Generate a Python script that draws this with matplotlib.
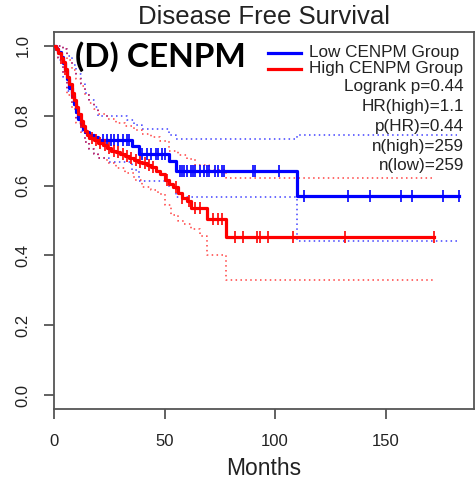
import matplotlib
matplotlib.use("Agg")
import matplotlib.pyplot as plt
import numpy as np

plt.rcParams['font.family'] = ['Liberation Sans', 'DejaVu Sans']

# Kaplan-Meier estimate, low expression group (months, survival)
low_t = [0, 1, 2, 3, 4, 5, 6, 7, 8, 9, 10, 11, 12, 13, 14, 16, 18, 20,
         35.5, 38.5, 52, 55, 110]
low_s = [1.0, 0.992, 0.982, 0.968, 0.95, 0.93, 0.905, 0.88, 0.858, 0.834,
         0.812, 0.792, 0.776, 0.762, 0.753, 0.745, 0.738, 0.731,
         0.712, 0.69, 0.67, 0.643, 0.57]
low_end = 183
low_cens = [22, 24, 26, 27, 29, 31, 33, 34, 40, 42, 44, 46, 47, 49, 50,
            57, 58, 59, 60, 62, 63, 64, 66, 68, 69, 70, 73, 74, 76, 77,
            90, 91, 102, 113, 133, 143, 157, 162, 176, 183]

low_up_t = [0, 2, 4, 6, 8, 10, 12, 14, 16, 18, 20, 33, 36, 40, 52, 55, 110]
low_up_s = [1.0, 1.0, 0.99, 0.97, 0.945, 0.92, 0.89, 0.865, 0.845, 0.825,
            0.80, 0.788, 0.775, 0.762, 0.745, 0.733, 0.745]
low_lo_t = [0, 2, 4, 6, 8, 10, 12, 14, 16, 18, 20, 25, 35.5, 38.5, 52, 55, 110]
low_lo_s = [1.0, 0.96, 0.91, 0.87, 0.83, 0.79, 0.755, 0.725, 0.705, 0.69,
            0.68, 0.667, 0.645, 0.614, 0.595, 0.567, 0.441]
low_ci_end = 182.5

# Kaplan-Meier estimate, high expression group
high_t = [0, 1, 2, 3, 4, 5, 6, 7, 8, 9, 10, 11, 12, 13, 14, 15, 16, 18, 20,
          22, 24, 26, 28, 30, 32, 34, 36, 38, 40, 42, 44, 46, 48, 50, 52,
          54, 56, 58, 60, 62, 69, 78]
high_s = [1.0, 0.99, 0.98, 0.965, 0.955, 0.935, 0.91, 0.89, 0.865, 0.845,
          0.825, 0.805, 0.785, 0.77, 0.757, 0.745, 0.737, 0.73, 0.722,
          0.715, 0.708, 0.70, 0.695, 0.69, 0.685, 0.679, 0.674, 0.669,
          0.664, 0.658, 0.652, 0.643, 0.633, 0.617, 0.605, 0.595, 0.58,
          0.565, 0.555, 0.537, 0.505, 0.454]
high_end = 172
high_cens = [3, 5, 8, 12, 17, 19, 21, 23, 25, 27, 29, 31, 33, 35, 37, 39,
             41, 43, 45, 51, 55, 58, 61, 64, 66, 72, 74, 76,
             82, 85.5, 92, 93, 96.7, 108, 131.7, 172]

high_up_t = [0, 2, 4, 6, 8, 10, 12, 14, 16, 18, 20, 24, 28, 32, 36, 40, 44,
             48, 52, 56, 60, 64, 70, 78]
high_up_s = [1.0, 1.0, 0.99, 0.96, 0.93, 0.905, 0.885, 0.86, 0.838, 0.818,
             0.805, 0.792, 0.78, 0.77, 0.758, 0.748, 0.738, 0.728, 0.70,
             0.688, 0.675, 0.66, 0.645, 0.621]
high_lo_t = [0, 2, 4, 6, 8, 10, 12, 14, 16, 18, 20, 24, 28, 32, 36, 40, 44,
             47, 50, 53, 56, 59, 62, 66, 69, 78]
high_lo_s = [1.0, 0.965, 0.925, 0.86, 0.82, 0.78, 0.75, 0.725, 0.705, 0.69,
             0.68, 0.665, 0.65, 0.635, 0.615, 0.597, 0.588, 0.575, 0.545,
             0.515, 0.5, 0.49, 0.476, 0.455, 0.40, 0.33]
high_ci_end = 172

x_ticks = [0, 50, 100, 150]
y_ticks = [0.0, 0.2, 0.4, 0.6, 0.8, 1.0]

stats = ["Logrank p=0.44", "HR(high)=1.1", "p(HR)=0.44",
         "n(high)=259", "n(low)=259"]

BLUE = "#0000ff"
RED = "#ff0000"

fig = plt.figure(figsize=(4.76, 4.82), dpi=100)
ax = fig.add_axes([54 / 476, (482 - 409) / 482, (474 - 54) / 476, (409 - 32) / 482])


def extend(t, s, end):
    return list(t) + [end], list(s) + [s[-1]]


def step_value(t, s, x):
    idx = np.searchsorted(np.asarray(t), x, side="right") - 1
    return np.asarray(s)[idx]


def ci_line(t, s, end, color):
    tt, ss = extend(t, s, end)
    ax.step(tt, ss, where="post", color=color, lw=1.1,
            linestyle=(0, (1, 2.2)), alpha=0.75, zorder=2)


ci_line(low_up_t, low_up_s, low_ci_end, BLUE)
ci_line(low_lo_t, low_lo_s, low_ci_end, BLUE)
ci_line(high_up_t, high_up_s, high_ci_end, RED)
ci_line(high_lo_t, high_lo_s, high_ci_end, RED)

for t, s, end, cens, color, z in [
        (low_t, low_s, low_end, low_cens, BLUE, 3),
        (high_t, high_s, high_end, high_cens, RED, 4)]:
    tt, ss = extend(t, s, end)
    ax.step(tt, ss, where="post", color=color, lw=2.3, zorder=z)
    ax.plot(cens, step_value(t, s, np.asarray(cens)), linestyle="none",
            marker="|", markersize=8, markeredgewidth=1.2, color=color,
            zorder=z)

ax.set_xlim(0, 190)
ax.set_ylim(-0.04, 1.04)
ax.set_xticks(x_ticks)
ax.set_yticks(y_ticks)
ax.set_xticklabels([str(v) for v in x_ticks])
ax.set_yticklabels([f"{v:.1f}" for v in y_ticks], rotation=90, va="center")

for sp in ax.spines.values():
    sp.set_color("#555555")
    sp.set_linewidth(1.3)
ax.tick_params(axis="both", colors="#555555", labelcolor="#222222",
               length=7, width=1.3, labelsize=12)
ax.tick_params(axis="y", pad=10)
ax.tick_params(axis="x", pad=11)

ax.set_title("Disease Free Survival", fontsize=18.5, color="#222222", pad=6)
ax.set_xlabel("Months", fontsize=16.5, color="#222222", labelpad=6)

ax.text(0.05, 0.936, "(D) CENPM", transform=ax.transAxes, fontsize=24,
        fontweight="bold", family=["Lato", "DejaVu Sans"], color="black",
        va="center", ha="left", zorder=6)

# legend drawn by hand, R style
for i, (lbl, col) in enumerate([("Low CENPM Group", BLUE),
                                ("High CENPM Group", RED)]):
    y = 0.945 - i * 0.042
    ax.plot([0.509, 0.589], [y, y], transform=ax.transAxes, color=col, lw=2.3)
    ax.text(0.608, y, lbl, transform=ax.transAxes, fontsize=12.3,
            color="#222222", va="center", ha="left")

for i, s in enumerate(stats):
    ax.text(0.976, 0.855 - i * 0.0525, s, transform=ax.transAxes,
            fontsize=12.3, color="#222222", va="center", ha="right")

fig.savefig("out.png", dpi=100)
